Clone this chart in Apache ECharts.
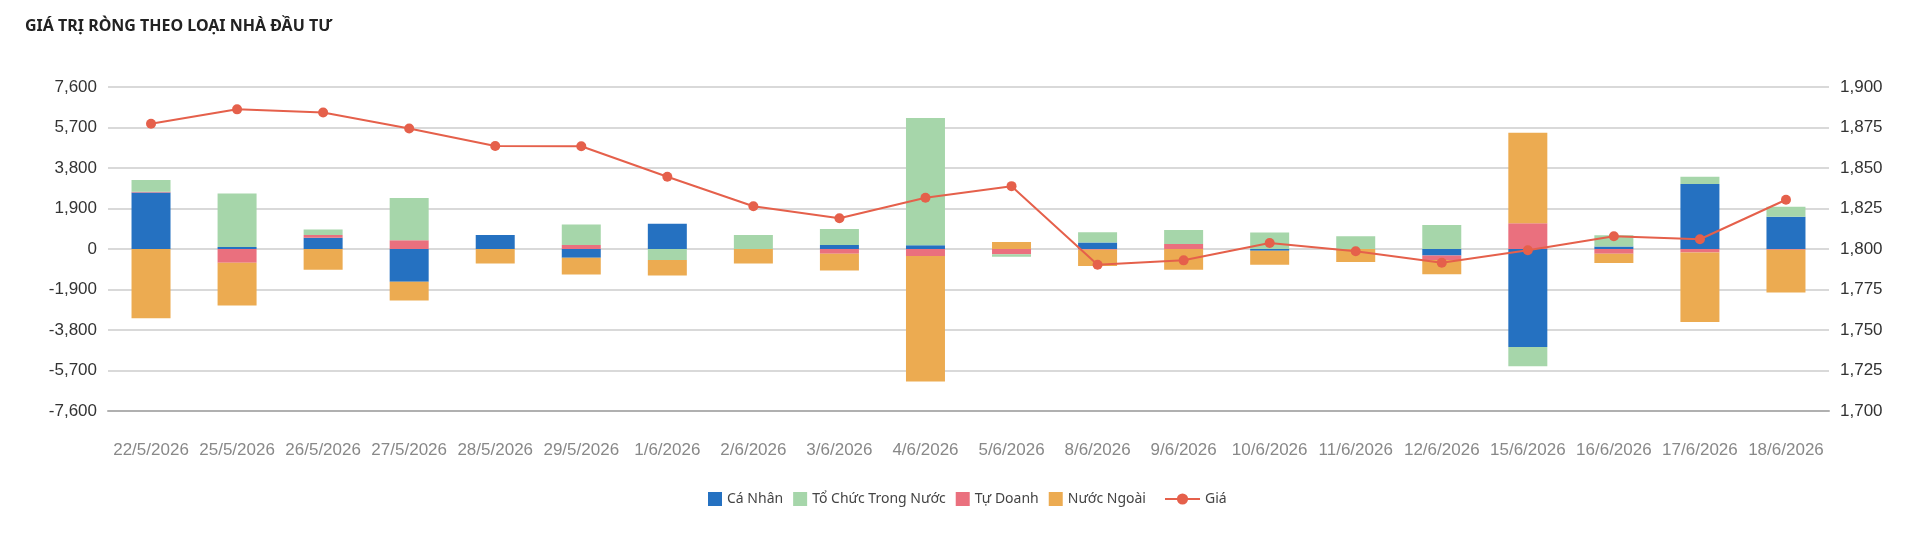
<!DOCTYPE html>
<html>
<head>
<meta charset="utf-8">
<title>Giá trị ròng theo loại nhà đầu tư</title>
<script src="https://cdn.jsdelivr.net/npm/echarts@6/dist/echarts.min.js"></script>
<style>
  html, body { margin: 0; padding: 0; background: #fff; }
  #chart { width: 1920px; height: 534px; }
</style>
</head>
<body>
<div id="chart"></div>
<script>
// ngày giao dịch
var dates = ["22/5/2026", "25/5/2026", "26/5/2026", "27/5/2026", "28/5/2026", "29/5/2026", "1/6/2026",
  "2/6/2026", "3/6/2026", "4/6/2026", "5/6/2026", "8/6/2026", "9/6/2026", "10/6/2026", "11/6/2026",
  "12/6/2026", "15/6/2026", "16/6/2026", "17/6/2026", "18/6/2026"];

// giá trị ròng (tỷ đồng)
var caNhan = [2650, 90, 530, -1540, 660, -410, 1190, 0, 190, 180, 0, 300, 0, -80, 0, -300, -4600, 120, 3050, 1510];
var tuDoanh = [40, -640, 130, 410, 0, 190, 0, 0, -220, -330, -250, -40, 230, 0, 0, -220, 1210, -220, -160, -30];
var toChuc = [550, 2510, 250, 1980, 0, 960, -520, 660, 750, 5970, -110, 490, 660, 770, 600, 1130, -900, 530, 340, 470];
var nuocNgoai = [-3250, -2010, -970, -880, -680, -790, -720, -680, -790, -5890, 330, -760, -970, -660, -610, -670, 4240, -440, -3270, -2010];

// chỉ số (trục phải)
var gia = [1877.3, 1886.2, 1884.3, 1874.4, 1863.6, 1863.4, 1844.6, 1826.4, 1819.0, 1831.6,
  1838.8, 1790.3, 1793.0, 1803.7, 1798.6, 1791.5, 1799.2, 1807.9, 1806.0, 1830.4];

var colors = {
  caNhan: "#2571c1",
  toChuc: "#a6d6aa",
  tuDoanh: "#ea707e",
  nuocNgoai: "#ecab51",
  gia: "#e5604b"
};

var axisFont = "'Liberation Sans', Arial, sans-serif";
var textFont = "'Noto Sans', sans-serif";

function barSeries(name, data, color) {
  return {
    name: name,
    type: "bar",
    stack: "net",
    data: data,
    barWidth: 39,
    itemStyle: { color: color },
    emphasis: { disabled: true }
  };
}

var chart = echarts.init(document.getElementById("chart"));

chart.setOption({
  animation: false,
  title: {
    text: "GIÁ TRỊ RÒNG THEO LOẠI NHÀ ĐẦU TƯ",
    left: 20,
    top: 13,
    textStyle: {
      fontFamily: textFont,
      fontSize: 16,
      fontWeight: "bold",
      color: "#222"
    }
  },
  legend: [
    {
      left: 708,
      top: 492,
      padding: 0,
      itemWidth: 14,
      itemHeight: 14,
      itemGap: 10,
      icon: "rect",
      data: ["Cá Nhân", "Tổ Chức Trong Nước", "Tự Doanh", "Nước Ngoài"],
      textStyle: { fontFamily: textFont, fontSize: 14, color: "#444" }
    },
    {
      left: 1164,
      top: 492,
      padding: 0,
      itemWidth: 35,
      itemHeight: 14,
      data: ["Giá"],
      textStyle: { fontFamily: textFont, fontSize: 14, color: "#444" }
    }
  ],
  grid: {
    left: 108,
    right: 91,
    top: 87,
    height: 324
  },
  xAxis: {
    type: "category",
    data: dates,
    axisTick: { show: false },
    axisLine: { onZero: false, lineStyle: { color: "#b0b0b0", width: 2 } },
    axisLabel: {
      margin: 31,
      interval: 0,
      color: "#888",
      fontFamily: axisFont,
      fontSize: 17
    }
  },
  yAxis: [
    {
      type: "value",
      min: -7600,
      max: 7600,
      interval: 1900,
      axisLine: { show: false },
      axisTick: { show: false },
      axisLabel: { margin: 11, color: "#333", fontFamily: axisFont, fontSize: 17 },
      splitLine: { lineStyle: { color: "#d9d9d9", width: 2 } }
    },
    {
      type: "value",
      min: 1700,
      max: 1900,
      interval: 25,
      axisLine: { show: false },
      axisTick: { show: false },
      axisLabel: { margin: 11, color: "#333", fontFamily: axisFont, fontSize: 17 },
      splitLine: { show: false }
    }
  ],
  series: [
    // thứ tự chồng cột: cá nhân, tự doanh, tổ chức, nước ngoài
    barSeries("Cá Nhân", caNhan, colors.caNhan),
    barSeries("Tự Doanh", tuDoanh, colors.tuDoanh),
    barSeries("Tổ Chức Trong Nước", toChuc, colors.toChuc),
    barSeries("Nước Ngoài", nuocNgoai, colors.nuocNgoai),
    {
      name: "Giá",
      type: "line",
      yAxisIndex: 1,
      data: gia,
      symbol: "circle",
      symbolSize: 10,
      z: 5,
      itemStyle: { color: colors.gia },
      lineStyle: { color: colors.gia, width: 2 }
    }
  ]
});
</script>
</body>
</html>
